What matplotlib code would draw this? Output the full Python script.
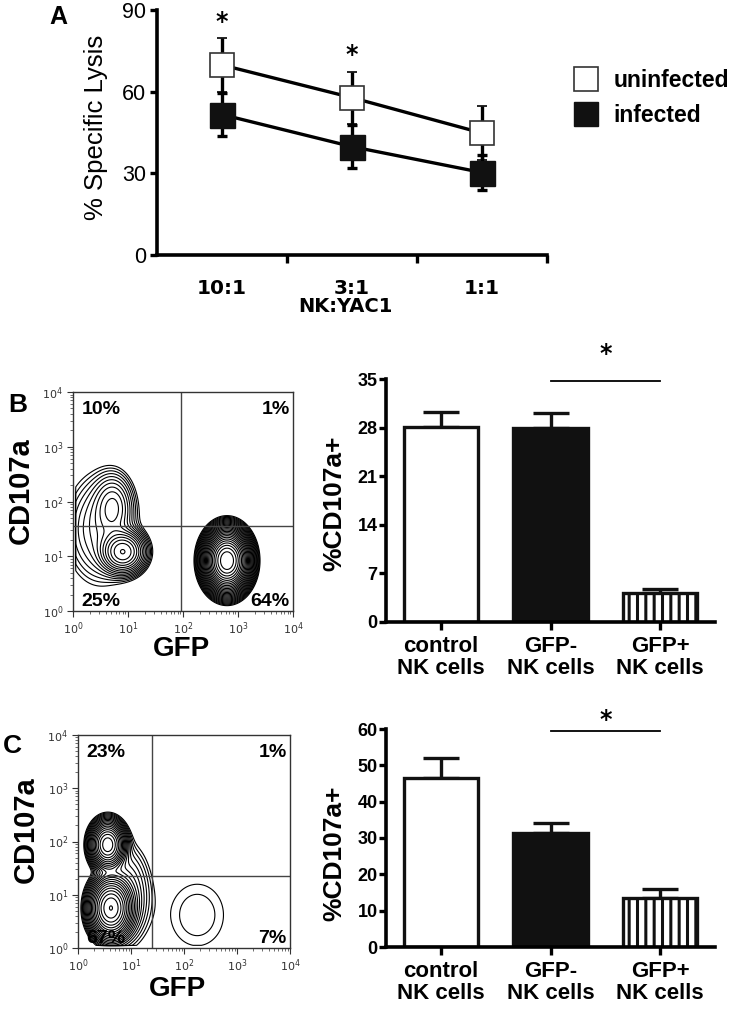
import numpy as np
import matplotlib
matplotlib.use("Agg")
import matplotlib.pyplot as plt
from matplotlib.lines import Line2D
from matplotlib.ticker import LogLocator, NullFormatter, FixedLocator

plt.rcParams['font.family'] = ['Liberation Sans', 'DejaVu Sans']
plt.rcParams['hatch.linewidth'] = 2.2

# ---------------- data ----------------
# Panel A
ratios = ['10:1', '3:1', '1:1']
uninfected = [69.8, 57.8, 44.8]
uninfected_err = [10.0, 9.6, 10.0]
infected = [51.6, 39.8, 30.3]
infected_err = [7.8, 7.8, 6.3]
a_yticks = [0, 30, 60, 90]
a_star_idx = [0, 1]
a_star_y = [85.5, 73.5]

# Bar panels
groups = ['control\nNK cells', 'GFP-\nNK cells', 'GFP+\nNK cells']
b_means = [28.1, 27.9, 4.2]
b_err = [2.1, 2.2, 0.6]
b_yticks = [0, 7, 14, 21, 28, 35]
c_means = [46.5, 31.4, 13.5]
c_err = [5.5, 2.8, 2.5]
c_yticks = [0, 10, 20, 30, 40, 50, 60]

# Flow cytometry populations (log10 units): centre x, centre y, spread x, spread y, weight
b_cx = [0.91, 0.73, 0.50, 2.80]
b_cy = [1.08, 1.90, 1.50, 0.92]
b_sx = [0.19, 0.18, 0.35, 0.157]
b_sy = [0.185, 0.30, 0.55, 0.215]
b_amp = [1.0, 0.22, 0.12, 30.0]
b_gate = (1.97, 1.55)
b_pct = ['10%', '1%', '25%', '64%']

c_cx = [0.62, 0.56, 0.90, 2.25]
c_cy = [0.75, 1.94, 1.00, 0.62]
c_sx = [0.17, 0.14, 0.25, 0.48]
c_sy = [0.24, 0.19, 0.50, 0.56]
c_amp = [1.0, 0.7, 0.03, 0.0068]
c_gate = (1.40, 1.36)
c_pct = ['23%', '1%', '67%', '7%']

# ---------------- layout helpers ----------------
W, H = 733, 1023
fig = plt.figure(figsize=(W / 100, H / 100), dpi=100)


def rect(x0, y0, x1, y1):
    return [x0 / W, 1 - y1 / H, (x1 - x0) / W, (y1 - y0) / H]


def fx(x):
    return x / W


def fy(y):
    return 1 - y / H


# ---------------- Panel A ----------------
axA = fig.add_axes(rect(157, 10, 547, 255))
xs = np.arange(len(ratios))
axA.errorbar(xs, uninfected, yerr=uninfected_err, color='black', lw=2.4,
             elinewidth=2.4, capsize=3.5, capthick=2.4, marker='s', ms=17,
             mfc='white', mec='#333333', mew=1.2, zorder=4)
axA.errorbar(xs, infected, yerr=infected_err, color='black', lw=2.4,
             elinewidth=2.4, capsize=3.5, capthick=2.4, marker='s', ms=18,
             mfc='#111111', mec='#111111', zorder=3)
for i, yv in zip(a_star_idx, a_star_y):
    axA.text(xs[i], yv, '*', ha='center', va='center', fontsize=17,
             family='DejaVu Sans', weight='bold', clip_on=False)
axA.set_xlim(-0.5, len(ratios) - 0.5)
axA.set_ylim(0, 90)
axA.set_yticks(a_yticks)
axA.set_yticklabels([str(v) for v in a_yticks], fontsize=15.5)
axA.set_xticks(xs)
axA.set_xticklabels(ratios, fontsize=14.5, family='DejaVu Sans', weight='bold')
axA.xaxis.set_minor_locator(FixedLocator([0.5, 1.5, 2.5]))
axA.tick_params(axis='x', which='major', length=0, pad=17)
axA.tick_params(axis='x', which='minor', length=6, width=2.4, direction='out')
axA.tick_params(axis='y', length=5, width=2.4, pad=3)
for s in ['top', 'right']:
    axA.spines[s].set_visible(False)
for s in ['left', 'bottom']:
    axA.spines[s].set_linewidth(2.6)
fig.text(fx(96), fy(127), '% Specific Lysis', rotation=90, ha='center',
         va='center', fontsize=18.5)
fig.text(fx(345), fy(306), 'NK:YAC1', ha='center', va='center', fontsize=14,
         family='DejaVu Sans', weight='bold')
fig.text(fx(58), fy(17), 'A', ha='center', va='center', fontsize=18, weight='bold')

handles = [Line2D([], [], ls='', marker='s', ms=17, mfc='white', mec='#333333', mew=1.2),
           Line2D([], [], ls='', marker='s', ms=17, mfc='#111111', mec='#111111')]
axA.legend(handles, ['uninfected', 'infected'], loc='center left',
           bbox_to_anchor=(fx(560), fy(98)), bbox_transform=fig.transFigure,
           frameon=False, prop={'size': 16.5, 'weight': 'bold'},
           handlelength=1.3, handletextpad=0.55, labelspacing=0.5, borderpad=0)


# ---------------- Flow plots ----------------
def density(cx, cy, sx, sy, amp, clip_x, clip_y):
    g = np.linspace(-0.3, 4.3, 500)
    X, Y = np.meshgrid(g, g)
    Z = np.zeros_like(X)
    for a, b, c, d, e in zip(cx, cy, sx, sy, amp):
        Z += e * np.exp(-0.5 * ((X - a) / c) ** 2 - 0.5 * ((Y - b) / d) ** 2)
    Z[(X < clip_x) | (Y < clip_y)] = 0
    return 10 ** X, 10 ** Y, Z


def flow_axes(r, cx, cy, sx, sy, amp, levels, gate, pct, clip_x, clip_y, lw):
    ax = fig.add_axes(r)
    X, Y, Z = density(cx, cy, sx, sy, amp, clip_x, clip_y)
    ax.contour(X, Y, Z, levels=levels, colors='black', linewidths=lw)
    ax.set_xscale('log')
    ax.set_yscale('log')
    ax.set_xlim(1, 1e4)
    ax.set_ylim(1, 1e4)
    ax.axvline(10 ** gate[0], color='#444444', lw=1.0)
    ax.axhline(10 ** gate[1], color='#444444', lw=1.0)
    ticks = [1, 10, 100, 1000, 10000]
    ax.set_xticks(ticks)
    ax.set_yticks(ticks)
    lbls = [r'$10^{%d}$' % i for i in range(5)]
    ax.set_xticklabels(lbls, fontsize=8, color='#333333')
    ax.set_yticklabels(lbls, fontsize=8, color='#333333')
    ax.xaxis.set_minor_locator(LogLocator(base=10, subs=np.arange(2, 10)))
    ax.yaxis.set_minor_locator(LogLocator(base=10, subs=np.arange(2, 10)))
    ax.xaxis.set_minor_formatter(NullFormatter())
    ax.yaxis.set_minor_formatter(NullFormatter())
    ax.tick_params(which='major', length=4, width=0.8, color='#333333', pad=3)
    ax.tick_params(which='minor', length=2, width=0.6, color='#555555')
    for s in ax.spines.values():
        s.set_linewidth(1.0)
        s.set_color('#333333')
    kw = dict(fontsize=14, weight='bold', transform=ax.transAxes)
    ax.text(0.04, 0.92, pct[0], ha='left', va='center', **kw)
    ax.text(0.985, 0.92, pct[1], ha='right', va='center', **kw)
    ax.text(0.04, 0.045, pct[2], ha='left', va='center', **kw)
    ax.text(0.985, 0.045, pct[3], ha='right', va='center', **kw)
    return ax


flow_axes(rect(73, 392, 293, 611), b_cx, b_cy, b_sx, b_sy, b_amp,
          np.geomspace(0.02, 30, 27), b_gate, b_pct, 0.05, -1, 0.8)
fig.text(fx(21), fy(491), 'CD107a', rotation=90, ha='center', va='center',
         fontsize=21, weight='bold')
fig.text(fx(181), fy(649), 'GFP', ha='center', va='center', fontsize=20, weight='bold')
fig.text(fx(18), fy(405), 'B', ha='center', va='center', fontsize=19, weight='bold')

flow_axes(rect(78, 735, 290, 948), c_cx, c_cy, c_sx, c_sy, c_amp,
          np.geomspace(0.004, 1.0, 20), c_gate, c_pct, 0.05, 0.05, 0.8)
fig.text(fx(26), fy(830), 'CD107a', rotation=90, ha='center', va='center',
         fontsize=21, weight='bold')
fig.text(fx(178), fy(989), 'GFP', ha='center', va='center', fontsize=20, weight='bold')
fig.text(fx(12), fy(746), 'C', ha='center', va='center', fontsize=19, weight='bold')


# ---------------- Bar panels ----------------
def bar_axes(r, means, errs, yticks, sig_y, star_y, ylab_y):
    ax = fig.add_axes(r)
    x = np.arange(len(groups))
    faces = ['white', '#111111', 'white']
    hatches = [None, None, '||']
    for i in range(len(groups)):
        ax.bar(x[i], means[i], width=0.68, color=faces[i], edgecolor='#111111',
               linewidth=2.4, hatch=hatches[i], zorder=2)
    ax.errorbar(x, means, yerr=[np.zeros(len(errs)), errs], fmt='none',
                ecolor='#111111', elinewidth=2.4, capsize=13, capthick=2.4, zorder=1)
    ax.set_xlim(-0.5, len(groups) - 0.5)
    ax.set_ylim(0, yticks[-1])
    ax.set_yticks(yticks)
    ax.set_yticklabels([str(v) for v in yticks], fontsize=13, weight='bold')
    ax.set_xticks(x)
    ax.set_xticklabels(groups, fontsize=16, weight='bold', linespacing=1.05)
    ax.tick_params(axis='y', length=5, width=2.4, pad=1)
    ax.tick_params(axis='x', length=6, width=2.4, pad=4)
    for s in ['top', 'right']:
        ax.spines[s].set_visible(False)
    for s in ['left', 'bottom']:
        ax.spines[s].set_linewidth(2.6)
    ax.plot([1, 2], [sig_y, sig_y], color='black', lw=1.3, clip_on=False)
    ax.text(1.5, star_y, '*', ha='center', va='center', fontsize=17,
            family='DejaVu Sans', weight='bold', clip_on=False)
    fig.text(fx(334), fy(ylab_y), '%CD107a+', rotation=90, ha='center',
             va='center', fontsize=19, weight='bold')
    return ax


bar_axes(rect(386, 379, 715, 622), b_means, b_err, b_yticks, 34.7, 38.6, 503)
bar_axes(rect(386, 729, 715, 947), c_means, c_err, c_yticks, 59.5, 62.5, 853)

fig.savefig('out.png', dpi=100)
